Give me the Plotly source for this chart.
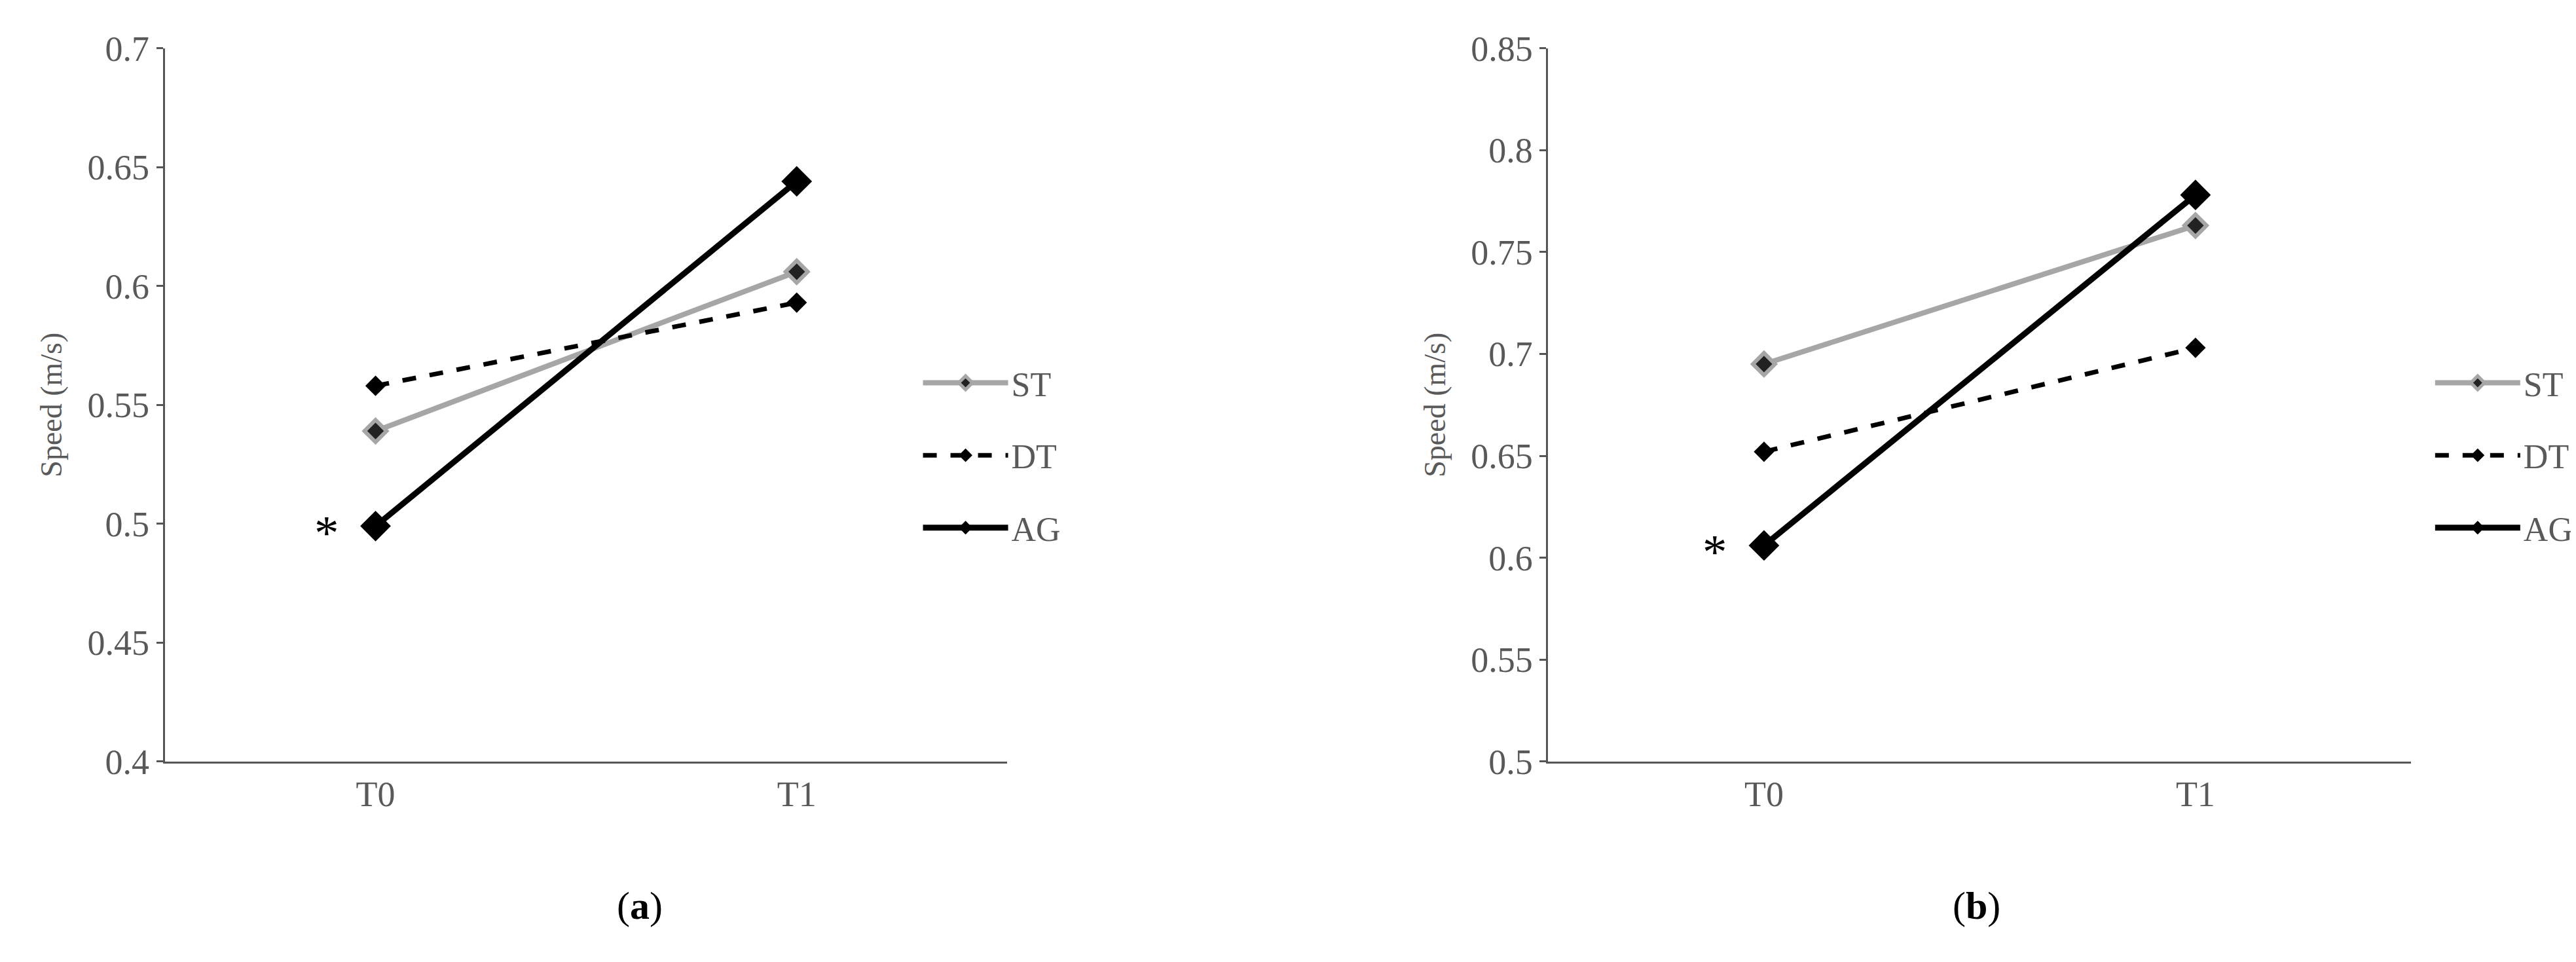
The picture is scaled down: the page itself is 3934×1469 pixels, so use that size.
import plotly.graph_objects as go

times = ["T0", "T1"]
x_pos = [0.5, 1.5]

st_a = [0.539, 0.606]
dt_a = [0.558, 0.593]
ag_a = [0.499, 0.644]

st_b = [0.695, 0.763]
dt_b = [0.652, 0.703]
ag_b = [0.606, 0.778]

FONT = "Liberation Serif"

fig = go.Figure()


def add_panel(fig, xa, ya, lg, st, dt, ag):
    fig.add_trace(go.Scatter(x=x_pos, y=st, name="ST", mode="lines+markers", xaxis=xa, yaxis=ya,
                             legend=lg, legendgroup=lg + "st",
                             line=dict(color="#a6a6a6", width=8),
                             marker=dict(symbol="diamond", size=26, color="#222222",
                                         line=dict(color="#a6a6a6", width=6))))
    fig.add_trace(go.Scatter(x=x_pos, y=dt, name="DT", mode="lines+markers", xaxis=xa, yaxis=ya,
                             legend=lg, legendgroup=lg + "dt",
                             line=dict(color="black", width=7, dash="dash"),
                             marker=dict(symbol="diamond", size=24, color="black")))
    fig.add_trace(go.Scatter(x=x_pos, y=ag, name="AG", mode="lines+markers", xaxis=xa, yaxis=ya,
                             legend=lg, legendgroup=lg + "ag",
                             line=dict(color="black", width=9),
                             marker=dict(symbol="diamond", size=36, color="black")))


add_panel(fig, "x", "y", "legend", st_a, dt_a, ag_a)
add_panel(fig, "x2", "y2", "legend2", st_b, dt_b, ag_b)

axis_common = dict(showgrid=False, zeroline=False, showline=True, linecolor="#555555", linewidth=3,
                   tickfont=dict(family=FONT, size=54, color="#595959"))
xcommon = dict(axis_common, range=[0, 2], tickvals=x_pos, ticktext=times, ticks="")
ycommon = dict(axis_common, ticks="outside", ticklen=10, tickcolor="#555555", tickwidth=3,
               title=dict(text="Speed (m/s)", font=dict(family=FONT, size=46, color="#595959"), standoff=25))

legend_common = dict(font=dict(family=FONT, size=52, color="#595959"), bgcolor="rgba(0,0,0,0)",
                     tracegroupgap=40, itemwidth=130, xanchor="left", yanchor="top")

fig.update_layout(
    width=3934, height=1469,
    margin=dict(l=0, r=0, t=0, b=0),
    plot_bgcolor="white", paper_bgcolor="white",
    xaxis=dict(xcommon, domain=[0.062, 0.389], anchor="y"),
    yaxis=dict(ycommon, domain=[0.201, 0.974], range=[0.4, 0.7], dtick=0.05, anchor="x"),
    xaxis2=dict(xcommon, domain=[0.599, 0.934], anchor="y2"),
    yaxis2=dict(ycommon, domain=[0.201, 0.974], range=[0.5, 0.85], dtick=0.05, anchor="x2"),
    legend=dict(legend_common, x=0.355, y=0.64),
    legend2=dict(legend_common, x=0.942, y=0.64),
)

for xa, ya, yv in [("x", "y", ag_a[0]), ("x2", "y2", ag_b[0])]:
    fig.add_annotation(x=0.5, y=yv, xref=xa, yref=ya, text="*", showarrow=False, xshift=-75, yshift=-10,
                       font=dict(family=FONT, size=75, color="black"))

fig.add_annotation(x=0.237, y=0.02, xref="paper", yref="paper", text="(<b>a</b>)", showarrow=False,
                   font=dict(family=FONT, size=60, color="black"))
fig.add_annotation(x=0.775, y=0.02, xref="paper", yref="paper", text="(<b>b</b>)", showarrow=False,
                   font=dict(family=FONT, size=60, color="black"))

fig.write_html("out.html")
